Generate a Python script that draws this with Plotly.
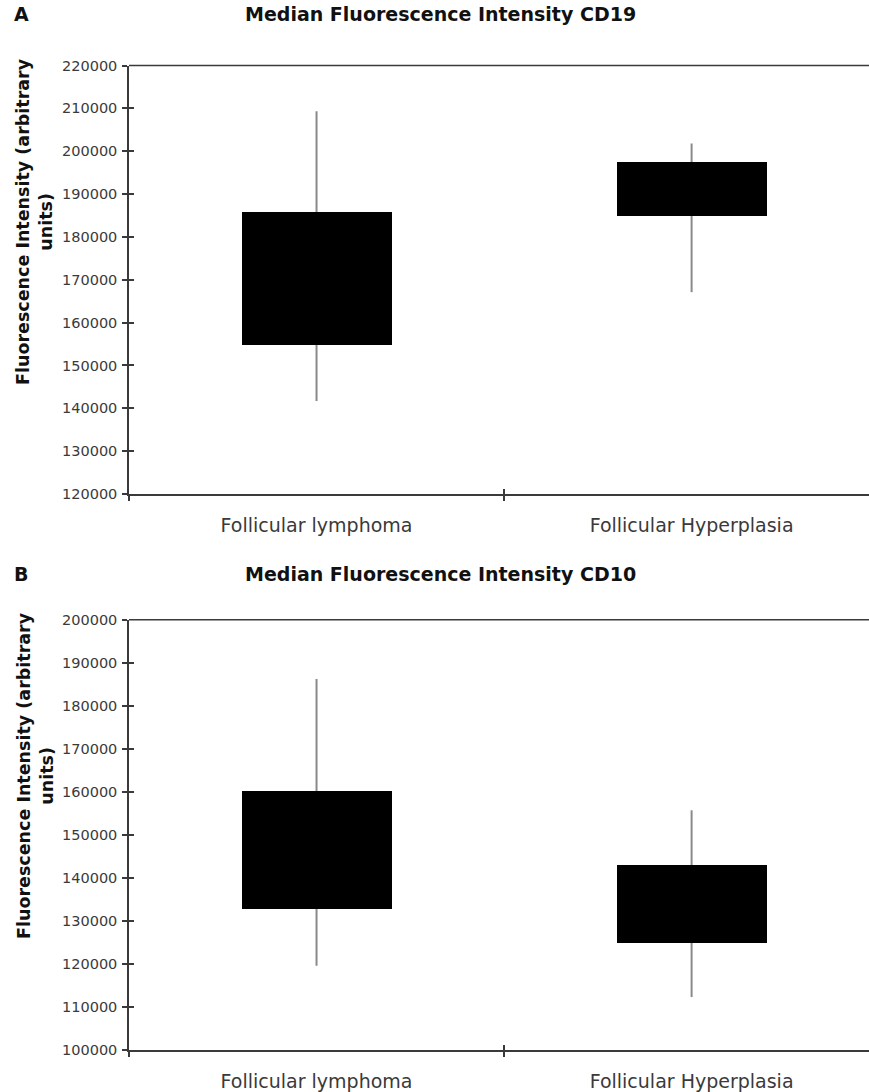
import plotly.graph_objects as go

categories = ["Follicular lymphoma", "Follicular Hyperplasia"]

# Panel A: CD19
cd19_box_low = [155000, 185100]
cd19_box_high = [185900, 197600]
cd19_whisker_low = [141700, 167100]
cd19_whisker_high = [209300, 201800]

# Panel B: CD10
cd10_box_low = [132900, 124900]
cd10_box_high = [160200, 143100]
cd10_whisker_low = [119600, 112300]
cd10_whisker_high = [186200, 155700]

yrange_a = [120000, 220000]
yrange_b = [100000, 200000]
tick_vals_a = list(range(120000, 220001, 10000))
tick_vals_b = list(range(100000, 200001, 10000))
tick_text_a = [str(v) for v in tick_vals_a]
tick_text_b = [str(v) for v in tick_vals_b]

FONT = "DejaVu Sans"
AXIS_COLOR = "#3a3a3a"
WHISKER_COLOR = "#8a8a8a"
TICK_COLOR = "#3a3a3a"

W, H = 869, 1092
x_left = 129 / W
dom_a = [1 - 494 / H, 1 - 65.5 / H]
dom_b = [1 - 1050 / H, 1 - 619.7 / H]
xr = [-0.5, 1.473]

fig = go.Figure()


def add_panel(fig, lows, highs, wlows, whighs, xa, ya, xb, yb):
    wx, wy = [], []
    for c, wl, wh in zip(categories, wlows, whighs):
        wx += [c, c, None]
        wy += [wl, wh, None]
    fig.add_trace(go.Scatter(x=wx, y=wy, mode="lines",
                             line=dict(color=WHISKER_COLOR, width=2),
                             xaxis=xa, yaxis=ya, showlegend=False, hoverinfo="skip"))
    fig.add_trace(go.Bar(x=categories, base=lows,
                         y=[h - l for h, l in zip(highs, lows)],
                         width=0.4, marker=dict(color="black", line=dict(width=0)),
                         xaxis=xb, yaxis=yb, showlegend=False))


add_panel(fig, cd19_box_low, cd19_box_high, cd19_whisker_low, cd19_whisker_high,
          "x", "y", "x3", "y3")
add_panel(fig, cd10_box_low, cd10_box_high, cd10_whisker_low, cd10_whisker_high,
          "x2", "y2", "x4", "y4")

common_x = dict(type="category", categoryarray=categories, categoryorder="array",
                range=xr, tickson="boundaries", ticklen=5, tickwidth=1.5,
                tickcolor=AXIS_COLOR, showgrid=False, zeroline=False,
                automargin=False, fixedrange=True)
main_x = dict(ticks="outside", showline=True, linecolor=AXIS_COLOR, linewidth=1.5,
              tickfont=dict(family=FONT, size=19, color=TICK_COLOR),
              ticklabelstandoff=13, **common_x)
inside_x = dict(ticks="inside", showline=False, showticklabels=False, **common_x)

common_y = dict(ticklen=5, tickwidth=1.5, tickcolor=AXIS_COLOR, showgrid=False,
                zeroline=False, automargin=False, fixedrange=True)
main_y = dict(ticks="outside", showline=True, linecolor=AXIS_COLOR, linewidth=1.5,
              tickfont=dict(family=FONT, size=14.5, color=TICK_COLOR),
              ticklabelstandoff=2, **common_y)
inside_y = dict(ticks="inside", showline=False, showticklabels=False, **common_y)

fig.update_layout(
    width=W, height=H,
    margin=dict(l=0, r=0, t=0, b=0, autoexpand=False),
    paper_bgcolor="white", plot_bgcolor="white",
    bargap=0,
    xaxis=dict(domain=[x_left, 1], anchor="y", **main_x),
    yaxis=dict(domain=dom_a, anchor="x", range=yrange_a, tickvals=tick_vals_a,
               ticktext=tick_text_a, **main_y),
    xaxis2=dict(domain=[x_left, 1], anchor="y2", **main_x),
    yaxis2=dict(domain=dom_b, anchor="x2", range=yrange_b, tickvals=tick_vals_b,
                ticktext=tick_text_b, **main_y),
    xaxis3=dict(domain=[x_left, 1], anchor="y3", overlaying="x", **inside_x),
    yaxis3=dict(domain=dom_a, anchor="x3", overlaying="y", range=yrange_a,
                tickvals=tick_vals_a, **inside_y),
    xaxis4=dict(domain=[x_left, 1], anchor="y4", overlaying="x2", **inside_x),
    yaxis4=dict(domain=dom_b, anchor="x4", overlaying="y2", range=yrange_b,
                tickvals=tick_vals_b, **inside_y),
)

# top frame lines
for yref in ["y domain", "y2 domain"]:
    fig.add_shape(type="line", xref="paper", yref=yref, x0=x_left, x1=1, y0=1, y1=1,
                  line=dict(color=AXIS_COLOR, width=1.5))

title_font = dict(family=FONT, size=19, color="#111111")
ytitle = "<b>Fluorescence Intensity (arbitrary<br>units)</b>"
annos = [
    dict(text="<b>A</b>", x=21 / W, y=1 - 14 / H),
    dict(text="<b>Median Fluorescence Intensity CD19</b>", x=440 / W, y=1 - 14 / H),
    dict(text="<b>B</b>", x=21 / W, y=1 - 574 / H),
    dict(text="<b>Median Fluorescence Intensity CD10</b>", x=440 / W, y=1 - 574 / H),
]
for a in annos:
    fig.add_annotation(xref="paper", yref="paper", showarrow=False,
                       xanchor="center", yanchor="middle", font=title_font, **a)
for yc in [222, 776]:
    fig.add_annotation(xref="paper", yref="paper", showarrow=False, text=ytitle,
                       textangle=-90, x=35 / W, y=1 - yc / H, xanchor="center",
                       yanchor="middle",
                       font=dict(family=FONT, size=17.5, color="#111111"))

fig.write_html("out.html")
